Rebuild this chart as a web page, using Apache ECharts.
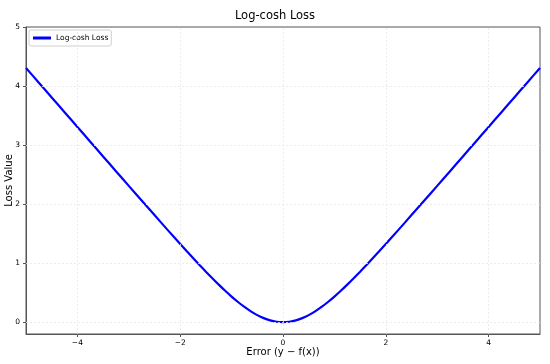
<!DOCTYPE html>
<html>
<head>
<meta charset="utf-8">
<script src="https://cdn.jsdelivr.net/npm/echarts@6/dist/echarts.min.js"></script>
<style>html,body{margin:0;padding:0;background:#fff}#c{width:550px;height:364px}</style>
</head>
<body>
<div id="c"></div>
<script>
const errorValues = [-5,-4.75,-4.5,-4.25,-4,-3.75,-3.5,-3.25,-3,-2.75,-2.5,-2.25,-2,-1.875,-1.75,-1.625,-1.5,-1.375,-1.25,-1.125,-1,-0.875,-0.75,-0.625,-0.5,-0.375,-0.25,-0.125,0,0.125,0.25,0.375,0.5,0.625,0.75,0.875,1,1.125,1.25,1.375,1.5,1.625,1.75,1.875,2,2.25,2.5,2.75,3,3.25,3.5,3.75,4,4.25,4.5,4.75,5];
const lossValues = [4.307,4.057,3.807,3.557,3.307,3.058,2.808,2.558,2.309,2.061,1.814,1.568,1.325,1.205,1.087,0.970,0.855,0.744,0.636,0.532,0.434,0.342,0.258,0.184,0.120,0.069,0.031,0.008,0,0.008,0.031,0.069,0.120,0.184,0.258,0.342,0.434,0.532,0.636,0.744,0.855,0.970,1.087,1.205,1.325,1.568,1.814,2.061,2.309,2.558,2.808,3.058,3.307,3.557,3.807,4.057,4.307];
const xTicks = [-4,-2,0,2,4];
const yTicks = [0,1,2,3,4,5];
const seriesName = 'Log-cosh Loss';

const chart = echarts.init(document.getElementById('c'), null, {renderer:'canvas'});
const font = 'DejaVu Sans';
chart.setOption({
  animation:false,
  backgroundColor:'#fff',
  title:{text:'Log-cosh Loss', left:'center', top:5, textStyle:{fontFamily:font, fontSize:11.5, fontWeight:'normal', color:'#000'}},
  legend:{show:true, left:29, top:30, orient:'vertical', itemWidth:18, itemHeight:3, itemGap:4,
    padding:[4,3,4,4], borderColor:'#d0d0d0', borderWidth:1, borderRadius:2, backgroundColor:'#fff',
    textStyle:{fontFamily:font, fontSize:7.5, color:'#000'}, icon:'rect', data:[seriesName]},
  grid:{left:26, right:10, top:27, bottom:30, show:true, borderColor:'#555', borderWidth:1, outerBoundsMode:'none', containLabel:false},
  xAxis:{type:'value', min:-5, max:5,
    name:'Error (y \u2212 f(x))', nameLocation:'middle', nameGap:13, nameMoveOverlap:false,
    nameTextStyle:{fontFamily:font, fontSize:10, color:'#000', verticalAlign:'top'},
    axisLine:{show:true, onZero:false, lineStyle:{color:'#555'}},
    axisTick:{show:true, customValues:xTicks, length:3, lineStyle:{color:'#555'}},
    axisLabel:{customValues:xTicks, fontFamily:font, fontSize:7.5, color:'#000', margin:5,
      formatter:v=>v<0?'\u2212'+Math.abs(v):String(v)},
    splitLine:{show:false}},
  yAxis:{type:'value', min:-0.2, max:5,
    name:'Loss Value', nameLocation:'middle', nameGap:12, nameRotate:90, nameMoveOverlap:false,
    nameTextStyle:{fontFamily:font, fontSize:10, color:'#000'},
    axisLine:{show:true, onZero:false, lineStyle:{color:'#555'}},
    axisTick:{show:true, customValues:yTicks, length:3, lineStyle:{color:'#555'}},
    axisLabel:{customValues:yTicks, fontFamily:font, fontSize:7.5, color:'#000', margin:6},
    splitLine:{show:false}},
  series:[
    {type:'line', name:'grid', silent:true, data:[], z:1,
      markLine:{silent:true, symbol:'none', label:{show:false}, lineStyle:{color:'#e8e8e8', type:[2,2], width:0.8}, animation:false,
        data:[...xTicks.map(v=>({xAxis:v})), ...yTicks.filter(v=>v<5).map(v=>({yAxis:v}))]}},
    {type:'line', name:seriesName, data:errorValues.map((x,i)=>[x,lossValues[i]]),
      smooth:0.2, showSymbol:false, symbol:'none', lineStyle:{color:'#0000ff', width:2.2}, itemStyle:{color:'#0000ff'}, z:3,
      emphasis:{disabled:true}}
  ]
});
</script>
</body>
</html>
